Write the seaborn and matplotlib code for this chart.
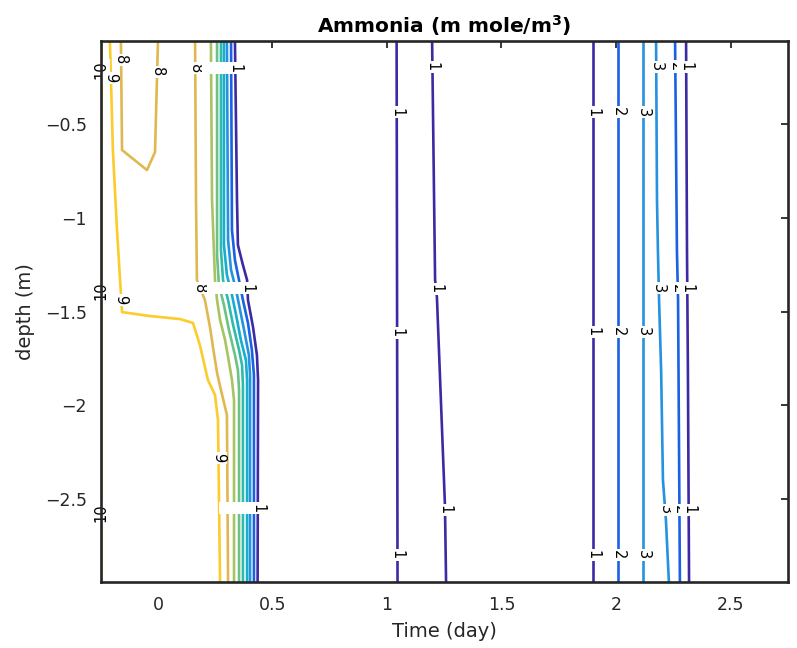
import matplotlib
matplotlib.use("Agg")
import matplotlib.pyplot as plt
import pandas as pd
import seaborn as sns

sns.set_theme(style="white")
plt.rcParams["font.family"] = ["DejaVu Sans"]
plt.rcParams["mathtext.fontset"] = "dejavusans"

# ---------------- data (time in days, depth in m) ----------------
title = "Ammonia (m mole/m$^{\\mathbf{3}}$)"
x_label = "Time (day)"
y_label = "depth (m)"
x_ticks = [0, 0.5, 1, 1.5, 2, 2.5]
x_tick_labels = ["0", "0.5", "1", "1.5", "2", "2.5"]
y_ticks = [-2.5, -2, -1.5, -1, -0.5]
y_tick_labels = ["\u22122.5", "\u22122", "\u22121.5", "\u22121", "\u22120.5"]
x_range = (-0.25, 2.75)
y_range = (-2.942, -0.055)

levels = [1, 2, 3, 4, 5, 6, 7, 8, 9, 10]
level_colors = ["#3d2aa3", "#1a62e4", "#2592e0", "#13aed0", "#2fbba8",
                "#6cc184", "#a9c363", "#e0b851", "#fccb2c", "#f7e51c"]

# contour lines: (level, time values, depth values)
c10_t = [-0.25, -0.25]
c10_z = [-0.055, -2.942]
c9_t = [-0.210, -0.197, -0.179, -0.157, -0.035, 0.096, 0.153, 0.183, 0.218, 0.249, 0.262, 0.271]
c9_z = [-0.055, -0.637, -1.064, -1.502, -1.523, -1.539, -1.560, -1.678, -1.864, -1.944, -2.078, -2.942]
c8u_t = [-0.162, -0.157, -0.048, -0.013, 0.000]
c8u_z = [-0.055, -0.637, -0.744, -0.648, -0.055]
c8_t = [0.162, 0.166, 0.170, 0.205, 0.227, 0.240, 0.258, 0.275, 0.301, 0.306]
c8_z = [-0.055, -0.904, -1.331, -1.438, -1.582, -1.688, -1.827, -1.918, -2.051, -2.942]
c7_t = [0.231, 0.236, 0.249, 0.258, 0.271, 0.293, 0.306, 0.323, 0.332, 0.332]
c7_z = [-0.055, -0.904, -1.331, -1.438, -1.544, -1.651, -1.742, -1.864, -1.971, -2.942]
c6_t = [0.258, 0.258, 0.266, 0.288, 0.310, 0.336, 0.349, 0.354, 0.354]
c6_z = [-0.055, -1.197, -1.357, -1.464, -1.598, -1.731, -1.811, -1.918, -2.942]
c5_t = [0.275, 0.275, 0.284, 0.306, 0.328, 0.354, 0.367, 0.371, 0.371]
c5_z = [-0.055, -1.171, -1.331, -1.438, -1.571, -1.704, -1.784, -1.891, -2.942]
c4_t = [0.288, 0.288, 0.301, 0.323, 0.341, 0.362, 0.384, 0.389, 0.389]
c4_z = [-0.055, -1.144, -1.304, -1.411, -1.517, -1.651, -1.758, -1.864, -2.942]
c3_t = [0.301, 0.306, 0.319, 0.341, 0.354, 0.376, 0.397, 0.402, 0.402]
c3_z = [-0.055, -1.117, -1.277, -1.384, -1.464, -1.598, -1.731, -1.838, -2.942]
c2_t = [0.319, 0.323, 0.336, 0.358, 0.371, 0.393, 0.410, 0.419, 0.419]
c2_z = [-0.055, -1.064, -1.224, -1.357, -1.438, -1.560, -1.704, -1.838, -2.942]
c1_t = [0.336, 0.345, 0.349, 0.371, 0.389, 0.393, 0.415, 0.432, 0.437, 0.435]
c1_z = [-0.055, -0.904, -1.144, -1.251, -1.331, -1.438, -1.582, -1.731, -1.864, -2.942]
c1a_t = [1.042, 1.046]
c1a_z = [-0.055, -2.942]
c1b_t = [1.197, 1.210, 1.218, 1.253, 1.258]
c1b_z = [-0.055, -1.331, -1.422, -2.531, -2.942]
c1c_t = [1.898, 1.898]
c1c_z = [-0.055, -2.942]
c2a_t = [2.010, 2.010]
c2a_z = [-0.055, -2.942]
c3a_t = [2.119, 2.119]
c3a_z = [-0.055, -2.942]
c3b_t = [2.175, 2.179, 2.183, 2.188, 2.197, 2.205, 2.218, 2.231]
c3b_z = [-0.055, -0.904, -1.171, -1.438, -1.811, -2.398, -2.612, -2.942]
c2b_t = [2.258, 2.266, 2.271, 2.279]
c2b_z = [-0.055, -1.171, -1.438, -2.942]
c1d_t = [2.306, 2.310, 2.314, 2.319]
c1d_z = [-0.055, -1.171, -1.811, -2.942]

contours = [
    (10, c10_t, c10_z), (9, c9_t, c9_z), (8, c8u_t, c8u_z), (8, c8_t, c8_z),
    (7, c7_t, c7_z), (6, c6_t, c6_z), (5, c5_t, c5_z), (4, c4_t, c4_z),
    (3, c3_t, c3_z), (2, c2_t, c2_z), (1, c1_t, c1_z),
    (1, c1a_t, c1a_z), (1, c1b_t, c1b_z), (1, c1c_t, c1c_z),
    (2, c2a_t, c2a_z), (3, c3a_t, c3a_z), (3, c3b_t, c3b_z),
    (2, c2b_t, c2b_z), (1, c1d_t, c1d_z),
]

# contour labels: text, time, depth, rotation
label_text = ["10", "10", "10", "9", "9", "9", "8", "8",
              "8", "7", "6", "5", "4", "3", "2", "1",
              "8", "7", "6", "5", "4", "3", "2", "1",
              "8", "7", "6", "5", "4", "3", "2", "1",
              "1", "1", "1", "1", "1", "1",
              "1", "2", "3", "1", "2", "3", "1", "2", "3",
              "3", "2", "1", "3", "2", "1", "3", "2", "1"]
label_t = [-0.25, -0.25, -0.25, -0.205, -0.162, 0.264, -0.162, 0.0,
           0.162, 0.233, 0.258, 0.275, 0.288, 0.302, 0.320, 0.338,
           0.183, 0.253, 0.270, 0.293, 0.314, 0.336, 0.362, 0.389,
           0.306, 0.332, 0.354, 0.371, 0.389, 0.402, 0.419, 0.435,
           1.043, 1.044, 1.045, 1.198, 1.214, 1.254,
           1.898, 2.010, 2.119, 1.898, 2.010, 2.119, 1.898, 2.010, 2.119,
           2.176, 2.258, 2.306, 2.187, 2.270, 2.311, 2.215, 2.278, 2.318]
label_z = [-0.21, -1.39, -2.57, -0.253, -1.438, -2.281, -0.157, -0.221,
           -0.200, -0.200, -0.200, -0.200, -0.200, -0.200, -0.200, -0.200,
           -1.374, -1.374, -1.374, -1.374, -1.374, -1.374, -1.374, -1.374,
           -2.548, -2.548, -2.548, -2.548, -2.548, -2.548, -2.548, -2.548,
           -0.435, -1.614, -2.798, -0.194, -1.379, -2.558,
           -0.435, -0.435, -0.435, -1.608, -1.608, -1.608, -2.798, -2.798, -2.798,
           -0.192, -0.192, -0.192, -1.375, -1.375, -1.375, -2.558, -2.558, -2.558]
label_rot = [90, 90, 90] + [-90] * (len(label_text) - 3)

# ---------------- figure ----------------
fig = plt.figure(figsize=(7.97, 6.48), dpi=100)
ax = fig.add_axes([0.1264, 0.1019, 0.862, 0.8349])

color_of = dict(zip(levels, level_colors))
for lev, t, z in contours:
    df = pd.DataFrame({"t": t, "z": z})
    sns.lineplot(data=df, x="t", y="z", sort=False, estimator=None,
                 color=color_of[lev], lw=1.9, ax=ax, zorder=2)

for txt, t, z, r in zip(label_text, label_t, label_z, label_rot):
    ax.text(t, z, txt, rotation=r, ha="center", va="center", fontsize=10.5,
            color="black", zorder=5, clip_on=False,
            bbox=dict(boxstyle="square,pad=0.1", fc="white", ec="none"))

ax.set_xlim(*x_range)
ax.set_ylim(*y_range)
ax.set_xticks(x_ticks)
ax.set_xticklabels(x_tick_labels)
ax.set_yticks(y_ticks)
ax.set_yticklabels(y_tick_labels)

axis_col = "#262626"
for s in ax.spines.values():
    s.set_color(axis_col)
    s.set_linewidth(1.9)
    s.set_zorder(6)
ax.tick_params(direction="in", length=5, width=1.3, colors=axis_col,
               top=True, right=True, labelsize=12.5, pad=10)
ax.set_xlabel(x_label, fontsize=14, color=axis_col, labelpad=6)
ax.set_ylabel(y_label, fontsize=14, color=axis_col, labelpad=7)
ax.set_title(title, fontsize=14.5, fontweight="bold", color="black", pad=6)
ax.grid(False)

fig.savefig("out.png", dpi=100, facecolor="white")
